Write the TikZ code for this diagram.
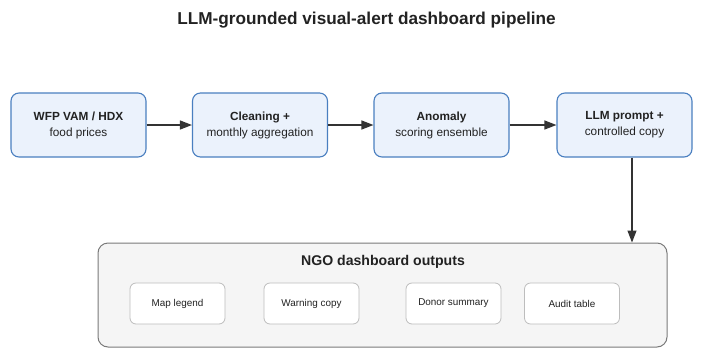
\documentclass[tikz,border=0pt]{standalone}
\usepackage{fontspec}
\setmainfont{Liberation Sans}
\usetikzlibrary{arrows.meta}
\definecolor{stepfill}{HTML}{EBF2FC}
\definecolor{stepdraw}{HTML}{4A7FC0}
\definecolor{outfill}{HTML}{F5F5F5}
\definecolor{outdraw}{HTML}{7A7A7A}
\definecolor{indraw}{HTML}{BDBDBD}
\definecolor{txt}{HTML}{222222}
\definecolor{arr}{HTML}{333333}
\begin{document}
\begin{tikzpicture}[x=1pt,y=-1pt,
  stepbox/.style={draw=stepdraw,fill=stepfill,line width=1.1pt,rounded corners=8pt,
    minimum width=135pt,minimum height=64pt,align=center,inner sep=0pt,
    font=\fontsize{11.8}{16}\selectfont,text=txt},
  outbox/.style={draw=outdraw,fill=outfill,line width=1pt,rounded corners=10pt,
    minimum width=569pt,minimum height=104pt,inner sep=0pt},
  itembox/.style={draw=indraw,fill=white,line width=0.8pt,rounded corners=6pt,
    minimum width=95pt,minimum height=41pt,inner sep=0pt,
    font=\fontsize{9.9}{12}\selectfont,text=txt},
  flow/.style={draw=arr,line width=1.2pt,-{Triangle[length=12pt,width=9pt]}}]
\useasboundingbox (0,0) rectangle (701,354);
\node[font=\bfseries\fontsize{17.2}{20}\selectfont,text=txt] (title) at (366.5,20) {LLM-grounded visual-alert dashboard pipeline};
\node[stepbox] (s1) at (78.5,125) {\textbf{WFP VAM / HDX}\\food prices};
\node[stepbox] (s2) at (260,125) {\textbf{Cleaning +}\\monthly aggregation};
\node[stepbox] (s3) at (441.5,125) {\textbf{Anomaly}\\scoring ensemble};
\node[stepbox] (s4) at (624.5,125) {\textbf{LLM prompt +}\\controlled copy};
\node[outbox] (out) at (382.5,295) {};
\node[font=\bfseries\fontsize{14.1}{16}\selectfont,text=txt] (outt) at (383,262) {NGO dashboard outputs};
\node[itembox] (i1) at (177.5,303.5) {Map legend};
\node[itembox] (i2) at (311.5,303.5) {Warning copy};
\node[itembox] (i3) at (453.5,303.5) {Donor summary};
\node[itembox] (i4) at (572,303.5) {Audit table};
\draw[flow] (s1) -- (s2);
\draw[flow] (s2) -- (s3);
\draw[flow] (s3) -- (s4);
\draw[flow] (s4.south -| 632,0) -- (out.north -| 632,0);
\end{tikzpicture}
\end{document}
